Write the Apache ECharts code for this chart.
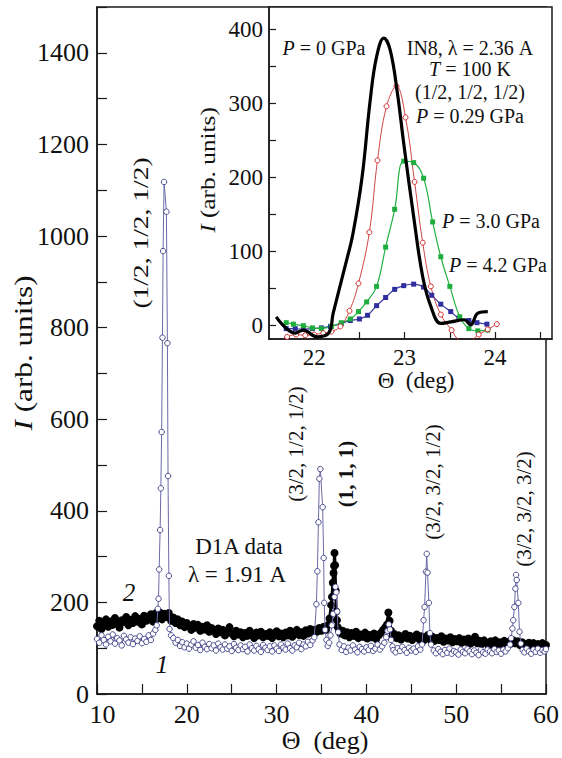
<!DOCTYPE html>
<html>
<head>
<meta charset="utf-8">
<script src="https://cdn.jsdelivr.net/npm/echarts@6/dist/echarts.min.js"></script>
<style>
html,body{margin:0;padding:0;background:#fff;}
#chart{width:562px;height:758px;}
</style>
</head>
<body>
<div id="chart"></div>
<script>
// ---------- Main panel (D1A data), curve 1: open circles ----------
const mainOpen = [
[10.0,120],[10.25,112],[10.5,128],[10.75,118],[11.0,108],[11.25,125],[11.5,115],[11.75,130],[12.0,110],[12.25,122],
[12.5,117],[12.75,106],[13.0,127],[13.25,119],[13.5,112],[13.75,124],[14.0,109],[14.25,121],[14.5,116],[14.75,126],
[15.0,111],[15.25,120],[15.5,114],[15.75,128],[16.0,118],[16.25,132],[16.5,140],[16.65,150],
[16.78,186],[16.85,208],[16.92,272],[17.03,358],[17.11,449],[17.2,572],[17.29,778],[17.36,967],[17.47,1118],
[17.73,1053],[17.84,766],[17.91,476],[18.0,258],[18.08,142],
[18.25,128],[18.5,122],[18.75,112],[19.0,118],[19.25,105],[19.5,113],[19.75,102],[20.0,110],[20.25,99],[20.5,108],
[20.75,115],[21.0,101],[21.25,107],[21.5,96],[21.75,112],[22.0,103],[22.25,98],[22.5,109],[22.75,100],[23.0,106],
[23.25,95],[23.5,110],[23.75,102],[24.0,97],[24.25,108],[24.5,99],[24.75,104],[25.0,94],[25.25,109],[25.5,101],
[25.75,96],[26.0,106],[26.25,98],[26.5,103],[26.75,93],[27.0,108],[27.25,100],[27.5,95],[27.75,105],[28.0,98],
[28.25,92],[28.5,107],[28.75,101],[29.0,96],[29.25,104],[29.5,93],[29.75,106],[30.0,99],[30.25,94],[30.5,108],
[30.75,101],[31.0,97],[31.25,110],[31.5,100],[31.75,95],[32.0,106],[32.25,102],[32.5,112],[32.75,98],[33.0,108],
[33.25,104],[33.5,114],[33.75,107],[34.0,117],[34.2,124],
[34.43,196],[34.54,268],[34.66,375],[34.76,470],[34.87,491],[35.13,408],[35.24,297],[35.3,199],[35.4,140],
[35.55,118],[35.7,105],[35.85,112],[36.0,128],[36.15,150],[36.3,175],[36.45,212],[36.55,234],[36.65,222],
[36.75,180],[36.85,135],[37.0,108],
[37.25,96],[37.5,104],[37.75,92],[38.0,101],[38.25,95],[38.5,106],[38.75,97],[39.0,91],[39.25,103],[39.5,98],
[39.75,93],[40.0,102],[40.25,96],[40.5,105],[40.75,94],[41.0,99],[41.25,108],[41.5,97],[41.75,104],[42.0,112],
[42.2,124],[42.35,138],[42.5,152],[42.62,141],[42.75,118],[42.9,104],
[43.0,96],[43.25,91],[43.5,100],[43.75,94],[44.0,103],[44.25,96],[44.5,90],[44.75,101],[45.0,95],[45.25,99],
[45.5,92],[45.75,104],[46.0,97],[46.2,108],
[46.37,161],[46.48,190],[46.63,267],[46.72,306],[46.81,265],[46.96,199],[47.07,133],[47.2,108],
[47.5,95],[47.75,89],[48.0,98],[48.25,92],[48.5,87],[48.75,96],[49.0,90],[49.25,99],[49.5,88],[49.75,94],
[50.0,91],[50.25,86],[50.5,97],[50.75,92],[51.0,89],[51.25,98],[51.5,93],[51.75,87],[52.0,95],[52.25,90],
[52.5,85],[52.75,96],[53.0,91],[53.25,88],[53.5,97],[53.75,93],[54.0,89],[54.25,98],[54.5,92],[54.75,95],
[55.0,88],[55.25,97],[55.5,93],[55.75,100],[56.0,108],
[56.12,122],[56.26,143],[56.35,161],[56.48,190],[56.59,230],[56.67,260],[56.74,249],[56.92,199],[57.05,136],[57.2,110],
[57.4,96],[57.6,91],[57.85,99],[58.1,93],[58.35,88],[58.6,97],[58.85,92],[59.1,99],[59.35,90],[59.6,96],
[59.85,93],[60.0,98]
];

// ---------- Main panel, curve 2: filled black circles ----------
const mainFilled = [
[10.0,148],[10.25,160],[10.5,142],[10.75,155],[11.0,163],[11.25,147],[11.5,158],[11.75,151],[12.0,166],[12.25,154],
[12.5,145],[12.75,161],[13.0,157],[13.25,168],[13.5,150],[13.75,162],[14.0,155],[14.25,170],[14.5,158],[14.75,164],
[15.0,152],[15.25,171],[15.5,160],[15.75,167],[16.0,174],[16.25,158],[16.5,176],[16.75,165],[17.0,178],[17.25,163],
[17.5,175],[17.75,168],[18.0,177],[18.25,160],[18.5,167],[18.75,155],[19.0,163],[19.25,150],[19.5,158],[19.75,146],
[20.0,155],[20.25,148],[20.5,140],[20.75,153],[21.0,145],[21.25,151],[21.5,138],[21.75,147],[22.0,141],[22.25,150],
[22.5,136],[22.75,144],[23.0,139],[23.25,131],[23.5,143],[23.75,135],[24.0,140],[24.25,128],[24.5,137],[24.75,146],
[25.0,132],[25.25,126],[25.5,138],[25.75,130],[26.0,135],[26.25,124],[26.5,133],[26.75,127],[27.0,138],[27.25,129],
[27.5,122],[27.75,134],[28.0,128],[28.25,136],[28.5,124],[28.75,131],[29.0,127],[29.25,135],[29.5,122],[29.75,130],
[30.0,137],[30.25,126],[30.5,132],[30.75,124],[31.0,134],[31.25,128],[31.5,138],[31.75,125],[32.0,131],[32.25,140],
[32.5,129],[32.75,135],[33.0,127],[33.25,139],[33.5,132],[33.75,142],[34.0,134],[34.25,140],[34.5,136],[34.75,144],
[35.0,138],[35.25,147],[35.5,140],[35.7,150],[35.9,165],
[36.08,194],[36.17,212],[36.26,243],[36.34,264],[36.4,280],[36.45,308],[36.51,281],[36.57,226],[36.63,180],[36.72,161],
[36.81,146],[36.95,140],
[37.1,132],[37.35,138],[37.6,128],[37.85,135],[38.1,124],[38.35,133],[38.6,127],[38.85,136],[39.1,122],[39.35,130],
[39.6,125],[39.85,134],[40.1,121],[40.35,129],[40.6,124],[40.85,132],[41.1,120],[41.35,128],[41.6,133],[41.85,140],
[42.1,146],[42.3,152],[42.45,178],[42.58,160],[42.75,138],[42.9,126],
[43.1,131],[43.35,122],[43.6,128],[43.85,119],[44.1,126],[44.35,131],[44.6,121],[44.85,127],[45.1,118],[45.35,125],
[45.6,130],[45.85,120],[46.1,126],[46.35,117],[46.6,124],[46.85,129],[47.1,119],[47.35,125],[47.6,116],[47.85,122],
[48.1,118],[48.35,126],[48.6,114],[48.85,121],[49.1,117],[49.35,124],[49.6,113],[49.85,120],[50.1,115],[50.35,122],
[50.6,112],[50.85,119],[51.1,114],[51.35,121],[51.6,110],[51.85,118],[52.1,125],[52.35,111],[52.6,116],[52.85,109],
[53.1,117],[53.35,112],[53.6,106],[53.85,115],[54.1,110],[54.35,117],[54.6,107],[54.85,113],[55.1,109],[55.35,116],
[55.6,108],[55.85,114],[56.1,110],[56.35,117],[56.6,111],[56.85,115],[57.1,107],[57.35,113],[57.6,109],[57.85,104],
[58.1,112],[58.35,106],[58.6,111],[58.85,103],[59.1,109],[59.35,105],[59.6,111],[59.85,102],[60.0,107]
];

// ---------- Inset (IN8 data) ----------
const insetP0 = [
[21.58,12],[21.79,-10],[21.88,-6],[22.03,-15],[22.16,-10],[22.21,17],[22.36,89],[22.43,125],[22.53,201],[22.62,305],
[22.69,363],[22.77,388],[22.84,372],[22.92,314],[22.99,246],[23.1,147],[23.2,66],[23.29,26],[23.4,3],[23.51,5],
[23.66,8],[23.73,1],[23.81,17],[23.92,19]
];
const insetP029 = [
[21.7,-15],[21.8,-12],[21.9,-13],[22.0,-12],[22.1,-10],[22.19,-8],[22.29,-1],[22.39,20],[22.49,57],[22.61,126],
[22.7,223],[22.8,296],[22.91,323],[23.01,281],[23.11,194],[23.2,112],[23.29,53],[23.4,15],[23.52,-6],[23.6,-19],
[23.7,-21],[23.82,-12],[23.92,-5],[24.02,2]
];
const insetP30 = [
[21.69,4],[21.77,2],[21.88,0],[21.98,-3],[22.08,-4],[22.19,-1],[22.3,4],[22.4,9],[22.49,19],[22.58,32],
[22.69,53],[22.79,106],[22.89,157],[22.99,222],[23.1,220],[23.21,199],[23.31,140],[23.4,93],[23.5,53],[23.61,12],
[23.71,-4],[23.81,-7],[23.92,-6]
];
const insetP42 = [
[21.69,-4],[21.79,-4],[21.88,-5],[21.98,-4],[22.08,-3],[22.18,-1],[22.3,3],[22.4,7],[22.5,9],[22.59,14],
[22.69,27],[22.79,38],[22.89,49],[22.99,54],[23.1,56],[23.21,52],[23.3,41],[23.4,29],[23.51,19],[23.6,10],
[23.71,7],[23.8,4],[23.91,2]
];

// ---------- Tick labels ----------
const mainXLabels = [10, 20, 30, 40, 50, 60];
const mainYLabels = [0, 200, 400, 600, 800, 1000, 1200, 1400];
const insetXLabels = [22, 23, 24];
const insetXTicks = [22, 22.5, 23, 23.5, 24, 24.5];
const insetYLabels = [0, 100, 200, 300, 400];
const insetYTicks = [0, 50, 100, 150, 200, 250, 300, 350, 400];

const FF = 'Liberation Serif';
const INK = '#111';
const plain = function (v) { return String(v); };
// first x label sits a little right of the corner, as in the original
const xFirst = function (v) { return v === mainXLabels[0] ? '{f|' + v + '}' : String(v); };

function txt(x, y, text, size, opt) {
  opt = opt || {};
  const lh = opt.lh || Math.round(size * 0.9);
  return {
    type: 'text', x: x, y: y, rotation: opt.rot || 0,
    scaleX: opt.sx || 1, scaleY: opt.sy || 1, z: 100,
    style: {
      text: text, fontSize: size, fontFamily: FF, fill: INK, lineHeight: lh,
      fontWeight: opt.bold ? 'bold' : 'normal',
      fontStyle: opt.italic ? 'italic' : 'normal',
      align: 'center', verticalAlign: 'middle',
      rich: {
        i: { fontSize: size, fontFamily: FF, fontStyle: 'italic', fill: INK, lineHeight: lh }
      }
    }
  };
}
const R90 = Math.PI / 2;

const chart = echarts.init(document.getElementById('chart'), null, { renderer: 'svg' });
chart.setOption({
  animation: false,
  backgroundColor: '#fff',
  textStyle: { fontFamily: FF },
  grid: [
    { left: 97, right: 10, top: 7, bottom: 64, show: true, borderColor: '#1a1a1a', borderWidth: 1.5, backgroundColor: 'transparent' },
    { left: 269, right: 10, top: 7, height: 332, show: true, borderColor: '#1a1a1a', borderWidth: 1.5, backgroundColor: '#fff', z: 5 }
  ],
  xAxis: [
    {
      gridIndex: 0, type: 'value', min: 10, max: 60, interval: 5,
      axisLine: { show: true, onZero: false, lineStyle: { color: '#1a1a1a', width: 1.5 } },
      axisTick: { show: true, inside: true, length: 10, lineStyle: { color: '#1a1a1a', width: 1.2 } },
      axisLabel: {
        customValues: mainXLabels, formatter: xFirst, margin: 10, fontSize: 26, lineHeight: 20, fontFamily: FF, color: INK,
        rich: { f: { fontSize: 26, lineHeight: 20, fontFamily: FF, color: INK, padding: [0, 0, 0, 11] } }
      },
      splitLine: { show: false }
    },
    {
      gridIndex: 1, type: 'value', min: 21.5, max: 24.63,
      axisLine: { show: true, onZero: false, lineStyle: { color: '#1a1a1a', width: 1.5 } },
      axisTick: { show: true, inside: true, length: 7, customValues: insetXTicks, lineStyle: { color: '#1a1a1a', width: 1.2 } },
      axisLabel: { customValues: insetXLabels, formatter: plain, margin: 9, fontSize: 23, lineHeight: 18, fontFamily: FF, color: INK },
      splitLine: { show: false }, z: 6
    }
  ],
  yAxis: [
    {
      gridIndex: 0, type: 'value', min: 0, max: 1500, interval: 100,
      axisLine: { show: true, onZero: false, lineStyle: { color: '#1a1a1a', width: 1.5 } },
      axisTick: { show: true, inside: true, length: 10, lineStyle: { color: '#1a1a1a', width: 1.2 } },
      axisLabel: { customValues: mainYLabels, formatter: plain, margin: 8, fontSize: 26, lineHeight: 16, fontFamily: FF, color: INK },
      splitLine: { show: false }
    },
    {
      gridIndex: 1, type: 'value', min: -18, max: 430,
      axisLine: { show: true, onZero: false, lineStyle: { color: '#1a1a1a', width: 1.5 } },
      axisTick: { show: true, inside: true, length: 7, customValues: insetYTicks, lineStyle: { color: '#1a1a1a', width: 1.2 } },
      axisLabel: { customValues: insetYLabels, formatter: plain, margin: 6, fontSize: 23, lineHeight: 18, fontFamily: FF, color: INK },
      splitLine: { show: false }, z: 6
    }
  ],
  series: [
    {
      name: '2', type: 'line', xAxisIndex: 0, yAxisIndex: 0, data: mainFilled,
      symbol: 'circle', symbolSize: 8, showAllSymbol: true,
      itemStyle: { color: '#000' }, lineStyle: { color: '#000', width: 3 }, z: 2
    },
    {
      name: '1', type: 'line', xAxisIndex: 0, yAxisIndex: 0, data: mainOpen,
      symbol: 'circle', symbolSize: 5.5, showAllSymbol: true,
      itemStyle: { color: '#fff', borderColor: '#3c3c86', borderWidth: 0.9 },
      lineStyle: { color: '#6a6aa8', width: 1 }, z: 3
    },
    {
      name: 'P=4.2', type: 'line', xAxisIndex: 1, yAxisIndex: 1, data: insetP42, smooth: 0.4,
      symbol: 'rect', symbolSize: 5, showAllSymbol: true,
      itemStyle: { color: '#2e2e9e' }, lineStyle: { color: '#3a3aa0', width: 1.2 }, z: 10
    },
    {
      name: 'P=3.0', type: 'line', xAxisIndex: 1, yAxisIndex: 1, data: insetP30, smooth: 0.4,
      symbol: 'rect', symbolSize: 5, showAllSymbol: true,
      itemStyle: { color: '#1fae3e' }, lineStyle: { color: '#22b040', width: 1.2 }, z: 10
    },
    {
      name: 'P=0.29', type: 'line', xAxisIndex: 1, yAxisIndex: 1, data: insetP029, smooth: 0.4,
      symbol: 'circle', symbolSize: 5, showAllSymbol: true,
      itemStyle: { color: '#fff', borderColor: '#d02a2a', borderWidth: 1 },
      lineStyle: { color: '#c83030', width: 0.9 }, z: 10
    },
    {
      name: 'P=0', type: 'line', xAxisIndex: 1, yAxisIndex: 1, data: insetP0, smooth: 0.4,
      symbol: 'none', lineStyle: { color: '#000', width: 3.2 }, z: 11
    }
  ],
  graphic: [
    // axis titles
    txt(23, 353, '{i|I} (arb. units)', 26, { rot: R90, sx: 1.2 }),
    txt(325, 740, 'Θ  (deg)', 26),
    txt(208, 170, '{i|I} (arb. units)', 22, { rot: R90, sx: 1.15 }),
    txt(416, 380, 'Θ  (deg)', 23),
    // main annotations
    txt(140, 233, '(1/2, 1/2, 1/2)', 22, { rot: R90, sx: 1.25 }),
    txt(296, 444, '(3/2, 1/2, 1/2)', 21, { rot: R90 }),
    txt(346, 474, '(1, 1, 1)', 21, { rot: R90, bold: true }),
    txt(433, 482, '(3/2, 3/2, 1/2)', 21, { rot: R90 }),
    txt(524, 509, '(3/2, 3/2, 3/2)', 21, { rot: R90 }),
    txt(239, 546, 'D1A data', 23),
    txt(237, 574, 'λ = 1.91 A', 23),
    txt(129, 592, '2', 25, { italic: true }),
    txt(162, 664, '1', 26, { italic: true }),
    // inset annotations
    txt(324, 48, '{i|P} = 0 GPa', 20),
    txt(470, 48, 'IN8, λ = 2.36 A', 20),
    txt(470, 69, '{i|T} = 100 K', 20),
    txt(470, 92, '(1/2, 1/2, 1/2)', 20),
    txt(470, 116, '{i|P} = 0.29 GPa', 20),
    txt(491, 221, '{i|P} = 3.0 GPa', 20),
    txt(498, 265, '{i|P} = 4.2 GPa', 20)
  ]
});
</script>
</body>
</html>
